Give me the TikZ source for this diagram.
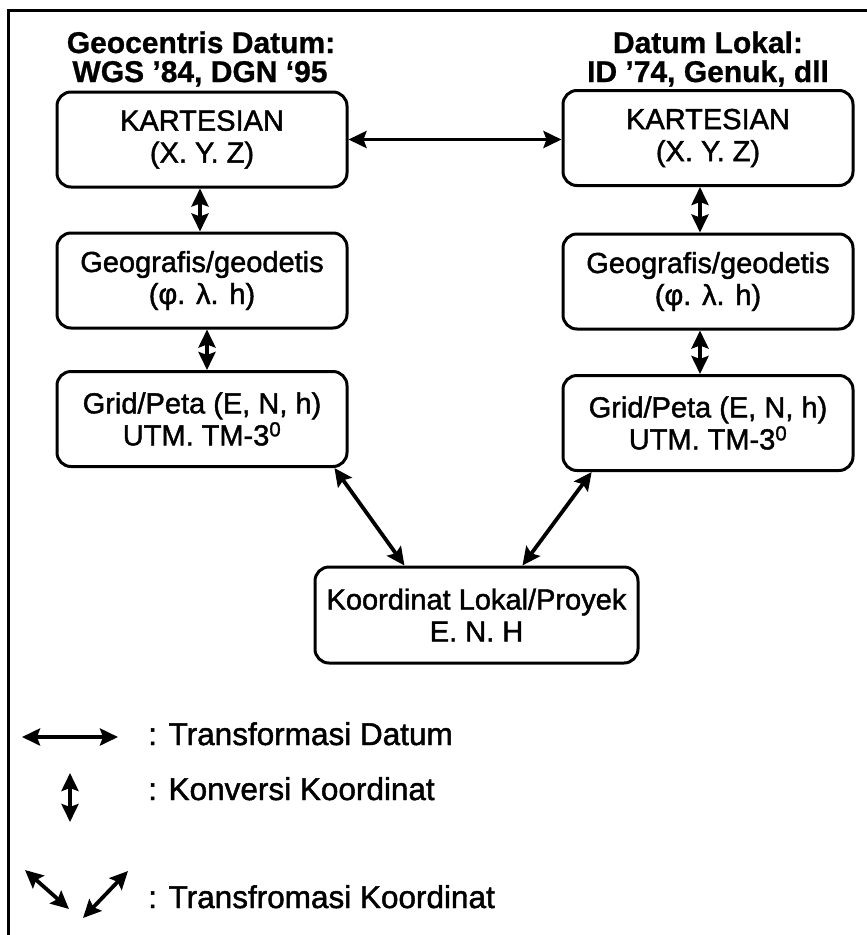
\documentclass[tikz,border=0pt]{standalone}
\usepackage{fontspec}
\setmainfont{Liberation Sans}
% slightly heavier strokes for the body text and headings
\newfontfamily\boxfont{Liberation Sans}[FakeBold=1.5]
\newfontfamily\headfont{Liberation Sans Bold}[FakeBold=0.8]
\usetikzlibrary{arrows.meta,calc}

\tikzset{
  frameline/.style={line width=3pt},
  cbox/.style={draw, line width=3pt, rounded corners=14pt,
    minimum width=290pt, minimum height=95pt, inner sep=0pt,
    align=center, font=\boxfont\fontsize{29}{32}\selectfont},
  title/.style={anchor=base, inner sep=0pt,
    font=\headfont\fontsize{30}{30}\selectfont},
  legendtext/.style={anchor=base west, inner sep=0pt,
    font=\boxfont\fontsize{31.5}{32}\selectfont},
  twoway/.style={line width=3.8pt,
    {Stealth[length=18pt,width=17pt,inset=3pt]}-{Stealth[length=18pt,width=17pt,inset=3pt]}}
}

\begin{document}
\begin{tikzpicture}[x=1pt,y=-1pt]
  % page area and white background
  \fill[white] (0,0) rectangle (867,935);
  \useasboundingbox (0,0) rectangle (867,935);

  % open frame: top and left edges only
  \draw[frameline] (867,10) -- (8,10) -- (8,935);

  % column headings
  \node[title] (t1a) at (201,53) {Geocentris Datum:};
  \node[title] (t1b) at (200,82) {WGS ’84, DGN ‘95};
  \node[title] (t2a) at (708,53) {Datum Lokal:};
  \node[title] (t2b) at (708,82) {ID ’74, Genuk, dll};

  % coordinate systems, global datum (left) and local datum (right)
  \node[cbox] (K1) at (202,139.5) {KARTESIAN\\(X. Y. Z)};
  \node[cbox] (G1) at (202,280.5) {Geografis/geodetis\\(φ. λ. h)};
  \node[cbox] (P1) at (202,419) {Grid/Peta (E, N, h)\\UTM. TM-3\textsuperscript{0}};

  \node[cbox] (K2) at (708,138) {KARTESIAN\\(X. Y. Z)};
  \node[cbox] (G2) at (708,281.5) {Geografis/geodetis\\(φ. λ. h)};
  \node[cbox] (P2) at (708,423) {Grid/Peta (E, N, h)\\UTM. TM-3\textsuperscript{0}};

  \node[cbox, minimum width=323pt, minimum height=96pt] (L) at (476.5,615)
    {Koordinat Lokal/Proyek\\E. N. H};

  % datum transformation
  \draw[twoway] (K1.east) -- (K1.east -| K2.west);

  % coordinate conversions
  \draw[twoway] ([xshift=-2pt]K1.south) -- ([xshift=-2pt]G1.north);
  \draw[twoway] ([xshift=5pt]G1.south) -- ([xshift=5pt]P1.north);
  \draw[twoway] ([xshift=-8pt]K2.south) -- ([xshift=-8pt]G2.north);
  \draw[twoway] ([xshift=-8pt]G2.south) -- ([xshift=-8pt]P2.north);

  % coordinate transformations to the local/project system
  \draw[twoway] ($(P1.south west)!0.952!(P1.south east)$) -- ($(L.north west)!0.279!(L.north east)$);
  \draw[twoway] ($(P2.south west)!0.103!(P2.south east)$) -- ($(L.north west)!0.641!(L.north east)$);

  % legend
  \coordinate (h1) at (22,737);
  \coordinate (h2) at (118,737);
  \coordinate (v1) at (70,773);
  \coordinate (v2) at (70,822);
  \coordinate (d1) at (25,870);
  \coordinate (d2) at (69,909);
  \coordinate (d3) at (128,871);
  \coordinate (d4) at (83,918);

  \draw[twoway] (h1) -- (h2);
  \draw[twoway] (v1) -- (v2);
  \draw[twoway] (d1) -- (d2);
  \draw[twoway] (d3) -- (d4);

  \node[legendtext] (lg1) at (148,745) {: Transformasi Datum};
  \node[legendtext] (lg2) at (148,800) {: Konversi Koordinat};
  \node[legendtext] (lg3) at (148,908) {: Transfromasi Koordinat};
\end{tikzpicture}
\end{document}
